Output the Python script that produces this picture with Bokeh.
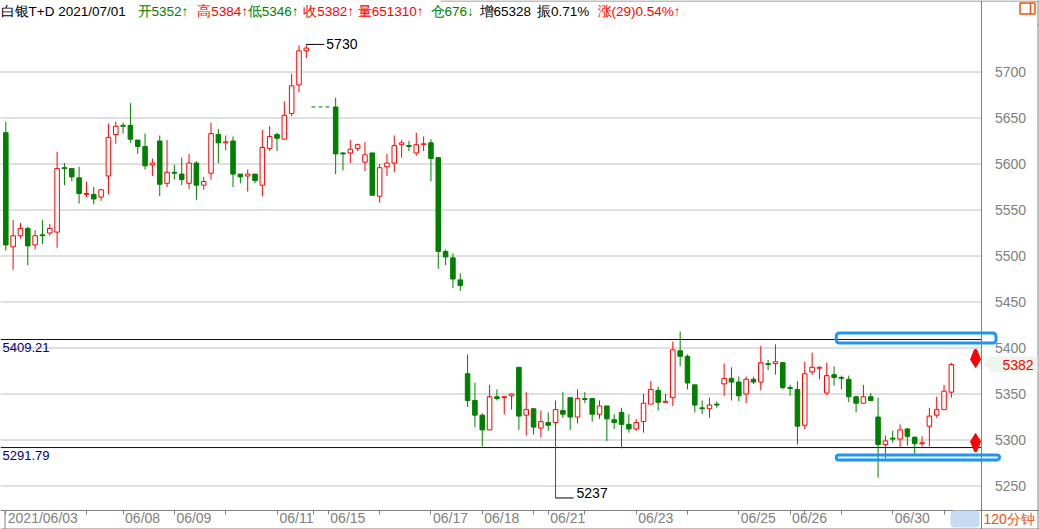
from bokeh.plotting import figure
from bokeh.models import (ColumnDataSource, Range1d, FixedTicker, LinearAxis,
                          BoxAnnotation)
from bokeh.core.properties import value
from bokeh.embed import file_html
from bokeh.resources import INLINE

# ---------------------------------------------------------------- data
symbol = "白银T+D"
quote_date = "2021/07/01"
volume = 651310
open_interest = 676
oi_increase = 65328
amplitude = "0.71%"
change = 29
change_pct = "0.54%"
timeframe = "120分钟"

opens = [5634, 5510, 5522, 5530, 5512, 5523, 5525, 5526, 5596, 5595,
         5585, 5567, 5567, 5564, 5587, 5632, 5642, 5642, 5626, 5619,
         5599, 5625, 5579, 5591, 5589, 5579, 5601, 5577, 5590, 5632,
         5623, 5625, 5589, 5587, 5589, 5577, 5617, 5632, 5627, 5655,
         5686, 5723,
         5662, 5612, 5612, 5617, 5602,
         5612, 5565, 5597, 5601, 5621, 5620, 5612, 5621, 5623, 5607,
         5505, 5498, 5474, 5372, 5343, 5327, 5311, 5347, 5346, 5348,
         5379, 5327, 5334, 5313, 5319, 5319, 5332, 5346, 5325, 5345,
         5345, 5328, 5337, 5322, 5330, 5317, 5312, 5320, 5339, 5354,
         5341, 5346, 5397, 5391, 5360, 5335, 5334, 5339, 5361, 5367,
         5363, 5350, 5366, 5363, 5383, 5383, 5384, 5357, 5355, 5316,
         5374, 5378, 5351, 5371, 5368, 5366, 5347, 5340, 5347, 5325,
         5295, 5302, 5301, 5312, 5303, 5296, 5315, 5327, 5333, 5352]
highs = [5646, 5539, 5536, 5532, 5528, 5539, 5535, 5613, 5601, 5595,
         5597, 5581, 5575, 5573, 5644, 5646, 5645, 5666, 5626, 5633,
         5606, 5631, 5626, 5599, 5607, 5611, 5603, 5586, 5645, 5638,
         5631, 5630, 5589, 5594, 5589, 5637, 5641, 5634, 5668, 5698,
         5729, 5730,
         5672, 5613, 5626, 5622, 5624,
         5612, 5600, 5611, 5631, 5626, 5625, 5634, 5630, 5627, 5607,
         5507, 5503, 5481, 5393, 5362, 5329, 5360, 5355, 5348, 5351,
         5379, 5352, 5334, 5332, 5330, 5343, 5352, 5346, 5355, 5352,
         5345, 5343, 5337, 5328, 5335, 5328, 5323, 5350, 5364, 5358,
         5350, 5407, 5418, 5393, 5360, 5343, 5346, 5342, 5383, 5379,
         5369, 5369, 5369, 5402, 5387, 5404, 5385, 5360, 5364, 5385,
         5395, 5380, 5384, 5380, 5370, 5370, 5348, 5360, 5351, 5346,
         5305, 5310, 5317, 5313, 5304, 5304, 5335, 5347, 5360, 5384]
lows = [5506, 5485, 5519, 5490, 5507, 5513, 5522, 5509, 5577, 5581,
        5557, 5564, 5556, 5560, 5567, 5622, 5633, 5623, 5611, 5594,
        5587, 5565, 5575, 5583, 5577, 5573, 5561, 5572, 5583, 5601,
        5615, 5575, 5579, 5570, 5579, 5565, 5614, 5614, 5627, 5652,
        5678, 5715,
        5589, 5593, 5601, 5614, 5592,
        5566, 5558, 5587, 5591, 5607, 5614, 5609, 5614, 5581, 5486,
        5490, 5465, 5462, 5336, 5314, 5293, 5311, 5343, 5328, 5333,
        5311, 5305, 5306, 5303, 5310, 5237, 5324, 5311, 5318, 5340,
        5320, 5323, 5299, 5312, 5291, 5308, 5310, 5308, 5339, 5332,
        5341, 5337, 5380, 5355, 5330, 5328, 5324, 5335, 5348, 5343,
        5342, 5340, 5361, 5354, 5376, 5371, 5355, 5348, 5295, 5312,
        5371, 5366, 5349, 5359, 5355, 5341, 5330, 5340, 5342, 5259,
        5280, 5297, 5292, 5294, 5285, 5293, 5293, 5324, 5333, 5346]
closes = [5512, 5522, 5530, 5511, 5522, 5522, 5530, 5595, 5595, 5586,
          5568, 5568, 5562, 5572, 5629, 5641, 5641, 5627, 5619, 5598,
          5601, 5578, 5591, 5590, 5583, 5601, 5577, 5581, 5633, 5623,
          5624, 5589, 5586, 5589, 5582, 5618, 5630, 5628, 5653, 5685,
          5723, 5726,
          5611, 5611, 5616, 5621, 5610,
          5566, 5596, 5601, 5620, 5623, 5619, 5621, 5622, 5606, 5505,
          5499, 5475, 5468, 5343, 5327, 5311, 5347, 5345, 5347, 5350,
          5326, 5333, 5314, 5320, 5316, 5333, 5328, 5325, 5345, 5344,
          5328, 5337, 5323, 5319, 5317, 5312, 5319, 5340, 5355, 5341,
          5342, 5398, 5391, 5362, 5338, 5334, 5338, 5338, 5367, 5363,
          5348, 5366, 5363, 5384, 5382, 5385, 5357, 5356, 5315, 5372,
          5379, 5379, 5370, 5368, 5367, 5347, 5340, 5347, 5343, 5295,
          5299, 5301, 5311, 5304, 5296, 5297, 5326, 5333, 5353, 5382]

gap_after = 42      # bars before the empty (holiday) slots
gap_slots = 3       # number of empty slots

price_ticks = [5250, 5300, 5350, 5400, 5450, 5500, 5550, 5600, 5650, 5700]
level_high = 5409.21
level_low = 5291.79
zone_high = [5405.4, 5416.3]     # blue box around the upper level
zone_low = [5278.3, 5283.7]      # blue box under the lower level
zone_start_slot = 113.3
alert_down_price = 5388.6
alert_up_price = 5297.3

day_start_slot = [0, 11, 16, 23, 30, 37, 42, 44, 51, 58, 65, 72, 74, 79, 86,
                  93, 100, 107, 109, 114, 121, 128]
date_labels = ["2021/06/03", "06/08", "06/09", "06/11", "06/15", "06/17",
               "06/18", "06/21", "06/23", "06/25", "06/26", "06/30"]
date_label_slot = [0, 16, 23, 37, 44, 58, 65, 74, 86, 100, 107, 121]

# ---------------------------------------------------------------- style / layout
RED = "#ff0000"
GREEN = "#008000"
GRAY = "#808080"
NAVY = "#000080"
BLUE = "#1e96f0"
ORANGE = "#e8530e"
FONT = "Liberation Sans"

W, H = 1039, 529
BAR_W = 0.62
PX_PER_SLOT = 7.33
PX_PER_PRICE = 0.92
X0_PX = 5.3            # pixel x of the first bar
Y_REF_PX = 71.5        # pixel y of the 5700 line


def rx(xpx):
    """page pixel x -> slot coordinate"""
    return (xpx - X0_PX) / PX_PER_SLOT


def ry(ypx):
    """page pixel y -> price coordinate"""
    return 5700 - (ypx - Y_REF_PX) / PX_PER_PRICE


n = len(opens)
slots = list(range(gap_after)) + [i + gap_slots for i in range(gap_after, n)]

p = figure(width=W, height=H, x_range=Range1d(rx(0), rx(W)), y_range=Range1d(ry(H), ry(0)),
           output_backend="svg", toolbar_location=None,
           x_axis_location=None, y_axis_location=None, min_border=0,
           outline_line_color=None, background_fill_color="white",
           border_fill_color="white")
p.grid.visible = False

AXIS_X = rx(980.5)
STRIP_Y = ry(509.5)

# ---- price axis (right side of the chart area)
ya = LinearAxis(fixed_location=AXIS_X, ticker=FixedTicker(ticks=price_ticks),
                axis_line_color=GRAY, major_tick_in=0, major_tick_out=0,
                minor_tick_in=0, minor_tick_out=0, major_label_standoff=14,
                major_label_text_font=FONT, major_label_text_font_size="14px",
                major_label_text_color=GRAY)
p.add_layout(ya, "right")

# dotted horizontal grid, stopping at the price axis
p.segment(x0=[rx(0)] * len(price_ticks), y0=price_ticks,
          x1=[AXIS_X] * len(price_ticks), y1=price_ticks,
          line_color=GRAY, line_width=1, line_dash="1 1")


# ---- date axis: minor ticks on day starts, labels just right of them
def text_w(s, size):
    return sum(0.556 if ch.isdigit() else 0.278 for ch in s) * size


LAB_SIZE = 14
centers = [round(t + (2 + text_w(s, LAB_SIZE) / 2) / PX_PER_SLOT, 3)
           for s, t in zip(date_labels, date_label_slot)]
xa = LinearAxis(fixed_location=STRIP_Y,
                ticker=FixedTicker(ticks=centers, minor_ticks=day_start_slot),
                major_label_overrides={cc: s for cc, s in zip(centers, date_labels)},
                axis_line_color=GRAY, major_tick_in=0, major_tick_out=0,
                minor_tick_in=0, minor_tick_out=4, minor_tick_line_color=GRAY,
                major_label_standoff=-4,
                major_label_text_font=FONT, major_label_text_font_size=f"{LAB_SIZE}px",
                major_label_text_color=GRAY)
p.add_layout(xa, "below")

# ---- frame lines
p.segment(x0=[rx(440), rx(1037.5), rx(1037), rx(0), rx(4.5)],
          y0=[ry(0.5), ry(0), ry(24.5), ry(528.5), STRIP_Y],
          x1=[rx(W), rx(1037.5), rx(W), rx(W), rx(4.5)],
          y1=[ry(0.5), ry(H), ry(24.5), ry(528.5), ry(528.5)],
          line_color=GRAY, line_width=1)

# ---- header line
o, hi, lo, c = opens[-1], highs[-1], lows[-1], closes[-1]
head_text = [f"{symbol} {quote_date}", f"开{o}↑", f"高{hi}↑", f"低{lo}↑", f"收{c}↑",
             f"量{volume}↑", f"仓{open_interest}↓", f"增{oi_increase}",
             f"振{amplitude}", f"涨({change}){change_pct}↑"]
head_color = ["black", GREEN, RED, GREEN, RED, RED, GREEN, "black", "black", RED]
head_px = [0, 137, 196.7, 247.3, 302.7, 357.3, 430, 479, 536.5, 597]
p.text(x=[rx(v) for v in head_px], y=[ry(11)] * len(head_px), text=head_text,
       text_color=head_color, text_font=value(FONT), text_font_size="13.5px",
       text_baseline="middle", text_align="left")
# small window icon
p.quad(left=[rx(1019.5)], right=[rx(1034.5)], top=[ry(2.5)], bottom=[ry(13.5)],
       fill_color=None, line_color=ORANGE, line_width=1.5)
p.segment(x0=[rx(1030)], y0=[ry(2.5)], x1=[rx(1030)], y1=[ry(13.5)],
          line_color=ORANGE, line_width=1.5)

# ---- horizontal reference levels
for lv in (level_high, level_low):
    p.segment(x0=[rx(0)], y0=[lv], x1=[AXIS_X], y1=[lv], line_color=NAVY, line_width=1)
p.text(x=[rx(2), rx(2)], y=[level_high, level_low],
       text=[f"{level_high:.2f}", f"{level_low:.2f}"], y_offset=3,
       text_color=NAVY, text_font=value(FONT), text_font_size="13px",
       text_baseline="top", text_align="left")

# ---- candles
up = [i for i in range(n) if closes[i] >= opens[i]]
dn = [i for i in range(n) if closes[i] < opens[i]]


def src(idx):
    return ColumnDataSource(dict(x=[slots[i] for i in idx], o=[opens[i] for i in idx],
                                 h=[highs[i] for i in idx], l=[lows[i] for i in idx],
                                 c=[closes[i] for i in idx]))


up_src, dn_src = src(up), src(dn)
p.segment(x0="x", y0="h", x1="x", y1="c", source=up_src, line_color=RED, line_width=1)
p.segment(x0="x", y0="o", x1="x", y1="l", source=up_src, line_color=RED, line_width=1)
p.vbar(x="x", width=BAR_W, top="c", bottom="o", source=up_src, fill_color="white",
       line_color=RED, line_width=1)
p.segment(x0="x", y0="h", x1="x", y1="l", source=dn_src, line_color=GREEN, line_width=1)
p.vbar(x="x", width=BAR_W, top="o", bottom="c", source=dn_src, fill_color=GREEN,
       line_color=GREEN, line_width=1)

# dashed marker across the empty slots, at the next bar's open
p.segment(x0=[slots[gap_after - 1] + 0.7], y0=[opens[gap_after]],
          x1=[slots[gap_after] - 0.5], y1=[opens[gap_after]],
          line_color=GREEN, line_width=1, line_dash="4 3")

# ---- extreme labels
imax = max(range(n), key=lambda i: highs[i])
imin = min(range(n), key=lambda i: lows[i])
lead = 18 / PX_PER_SLOT
p.segment(x0=[slots[imax], slots[imin]], y0=[highs[imax], lows[imin]],
          x1=[slots[imax] + lead, slots[imin] + lead], y1=[highs[imax], lows[imin]],
          line_color="black", line_width=1)
p.text(x=[slots[imax] + lead], y=[highs[imax]], text=[str(highs[imax])], x_offset=2,
       text_color="black", text_font=value(FONT), text_font_size="14px",
       text_baseline="middle", text_align="left")
p.text(x=[slots[imin] + lead], y=[lows[imin]], text=[str(lows[imin])], x_offset=3,
       text_color="black", text_font=value(FONT), text_font_size="14px",
       text_baseline="bottom", text_align="left")

# ---- blue zones
p.add_layout(BoxAnnotation(left=zone_start_slot, right=rx(995.5), bottom=zone_high[0],
                           top=zone_high[1], fill_alpha=0, line_color=BLUE, line_alpha=1,
                           line_width=3, border_radius=3))
p.add_layout(BoxAnnotation(left=zone_start_slot, right=rx(999), bottom=zone_low[0],
                           top=zone_low[1], fill_alpha=0, line_color=BLUE, line_alpha=1,
                           line_width=3, border_radius=3))

# ---- alert arrows
ax_slot = slots[-1] + 3.3
sx = 1 / PX_PER_SLOT
sy = 1 / PX_PER_PRICE
shape = [(-1, -9), (1, -9), (5, 1), (0, 9), (-5, 1)]   # pointing down (screen y down)
xs_arrow = [ax_slot + dx * sx for dx, dy in shape]
ys_down = [alert_down_price - dy * sy for dx, dy in shape]
ys_up = [alert_up_price + dy * sy for dx, dy in shape]
p.patches(xs=[xs_arrow, xs_arrow], ys=[ys_down, ys_up], fill_color=RED, line_color=RED,
          line_width=1)

# ---- last price tag on the axis
tag_h = 8 * sy
tag_x = [rx(983), rx(991), rx(1037), rx(1037), rx(991)]
tag_y = [c, c + tag_h, c + tag_h, c - tag_h, c - tag_h]
p.patch(x=tag_x, y=tag_y, fill_color="#edf5ed", line_color=None)
p.text(x=[rx(1002)], y=[c], text=[str(c)], text_color=RED, text_font=value(FONT),
       text_font_size="14px", text_baseline="middle", text_align="left")

# ---- scroll thumb and timeframe in the date strip
p.add_layout(BoxAnnotation(left=rx(950), right=rx(979), bottom=ry(527), top=ry(510),
                           fill_color="#c5dbf3", fill_alpha=1, line_color=None,
                           border_radius=4))
p.text(x=[rx(983)], y=[ry(518.5)], text=[timeframe], text_color=ORANGE,
       text_font=value(FONT), text_font_size="14px", text_baseline="middle",
       text_align="left")

open("out.html", "w").write(file_html(p, INLINE))
